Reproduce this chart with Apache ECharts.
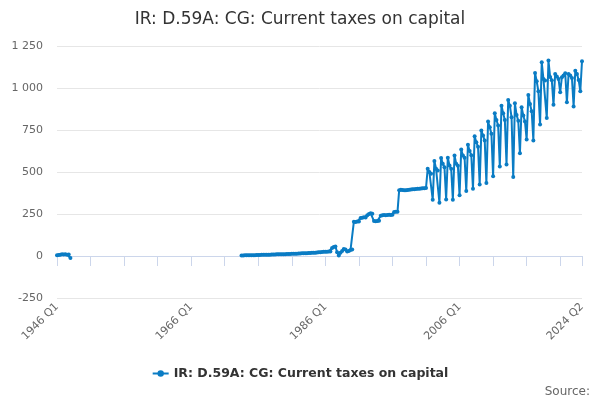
<!DOCTYPE html>
<html>
<head>
<meta charset="utf-8">
<title>IR: D.59A: CG: Current taxes on capital</title>
<script src="https://cdn.jsdelivr.net/npm/echarts@6/dist/echarts.min.js"></script>
<style>
    html, body { margin: 0; padding: 0; background: #fff; }
    #chart { width: 600px; height: 400px; }
</style>
</head>
<body>
<div id="chart"></div>
<script>
// quarterly categories, 1946 Q1 .. 2024 Q2
var firstYear = 1946;
var lastYear = 2024;
var lastQuarter = 2;

// 1946 Q1 - 1948 Q1
var values1946 = [4, 6, 8, 10, 9, 10, 8, 9, -12];
// 1973 Q3 - 1990 Q1
var start1973 = 110;
var values1973 = [
    3, 3, 4, 4, 4, 5, 5, 5, 5, 6,
    6, 6, 7, 7, 7, 8, 8, 8, 9, 9,
    9, 10, 10, 10, 11, 11, 11, 12, 12, 12,
    13, 13, 14, 14, 15, 15, 16, 16, 17, 17,
    18, 18, 19, 20, 20, 21, 22, 23, 24, 25,
    26, 26, 27, 27,
    48, 53, 57, 22, 3, 20, 30, 42, 38, 27, 30, 36, 38
];
// 1990 Q2 - 2001 Q1
var values1990 = [
    204, 203, 205, 206,
    226, 228, 230, 229,
    242, 250, 254, 252,
    208, 207, 209, 210,
    240, 242, 244, 243, 244, 245, 244, 246,
    262, 264, 263,
    392, 394, 393, 392, 391, 393, 395, 396, 397, 398, 399, 400, 401, 402, 403, 404, 405
];
// 2001 Q2 - 2024 Q2
var values2001 = [
    519, 500, 490,
    335, 565, 519, 509,
    317, 583, 549, 529,
    337, 585, 539, 519,
    335, 598, 549, 537,
    361, 634, 598, 585,
    387, 662, 625, 600,
    401, 713, 677, 651,
    426, 747, 717, 688,
    434, 800, 766, 727,
    474, 850, 810, 777,
    533, 895, 850, 810,
    545, 929, 895, 826,
    470, 909, 840, 805,
    612, 886, 836, 800,
    693, 959, 905, 862,
    688, 1090, 1040, 980,
    783, 1153, 1054, 1044,
    822, 1163, 1066, 1046,
    901, 1084, 1068, 1054,
    975, 1064, 1074, 1088,
    915, 1084, 1074, 1060,
    890, 1103, 1084, 1048,
    981, 1159
];

var categories = [];
for (var y = firstYear; y <= lastYear; y++) {
    for (var q = 1; q <= 4; q++) {
        if (y === lastYear && q > lastQuarter) break;
        categories.push(y + ' Q' + q);
    }
}
var lastIndex = categories.length - 1;

// put the pieces on the quarter axis, gaps stay empty
var laterValues = values1973.concat(values1990, values2001);
var seriesData = categories.map(function (c, i) {
    if (i < values1946.length) return values1946[i];
    if (i >= start1973 && i - start1973 < laterValues.length) return laterValues[i - start1973];
    return null;
});

function spaced(v) {
    return String(v).replace(/\B(?=(\d{3})+(?!\d))/g, ' ');
}

var chart = echarts.init(document.getElementById('chart'));
chart.setOption({
    animation: false,
    textStyle: { fontFamily: 'DejaVu Sans' },
    title: {
        text: 'IR: D.59A: CG: Current taxes on capital',
        left: 'center',
        top: 6,
        textStyle: { fontSize: 17, fontWeight: 'normal', color: '#333333' }
    },
    legend: {
        bottom: 15,
        left: 'center',
        itemWidth: 16,
        itemHeight: 8,
        textStyle: { fontSize: 12.5, fontWeight: 'bold', color: '#333333' }
    },
    graphic: [{
        type: 'text',
        right: 10,
        bottom: 2,
        style: { text: 'Source:', fontSize: 12, fill: '#666666', fontFamily: 'DejaVu Sans' }
    }],
    grid: { left: 57, right: 18, top: 46, bottom: 102 },
    xAxis: {
        type: 'category',
        data: categories,
        boundaryGap: false,
        axisLine: { lineStyle: { color: '#ccd6eb' } },
        axisTick: {
            length: 10,
            lineStyle: { color: '#ccd6eb' },
            interval: function (i) { return i % 20 === 0 || i === lastIndex; }
        },
        axisLabel: {
            rotate: 45,
            fontSize: 11,
            color: '#666666',
            margin: 7,
            showMaxLabel: true,
            interval: function (i) { return i % 80 === 0 || i === lastIndex; }
        },
        splitLine: { show: false }
    },
    yAxis: {
        type: 'value',
        min: -250,
        max: 1250,
        interval: 250,
        axisLine: { show: false },
        axisTick: { show: false },
        axisLabel: { fontSize: 11, color: '#666666', margin: 14, formatter: spaced },
        splitLine: { lineStyle: { color: '#e6e6e6' } }
    },
    series: [{
        name: 'IR: D.59A: CG: Current taxes on capital',
        type: 'line',
        data: seriesData,
        connectNulls: false,
        symbol: 'circle',
        symbolSize: 4,
        showSymbol: true,
        showAllSymbol: true,
        itemStyle: { color: '#0a7cc4' },
        lineStyle: { width: 2, color: '#0a7cc4' }
    }]
});
</script>
</body>
</html>
